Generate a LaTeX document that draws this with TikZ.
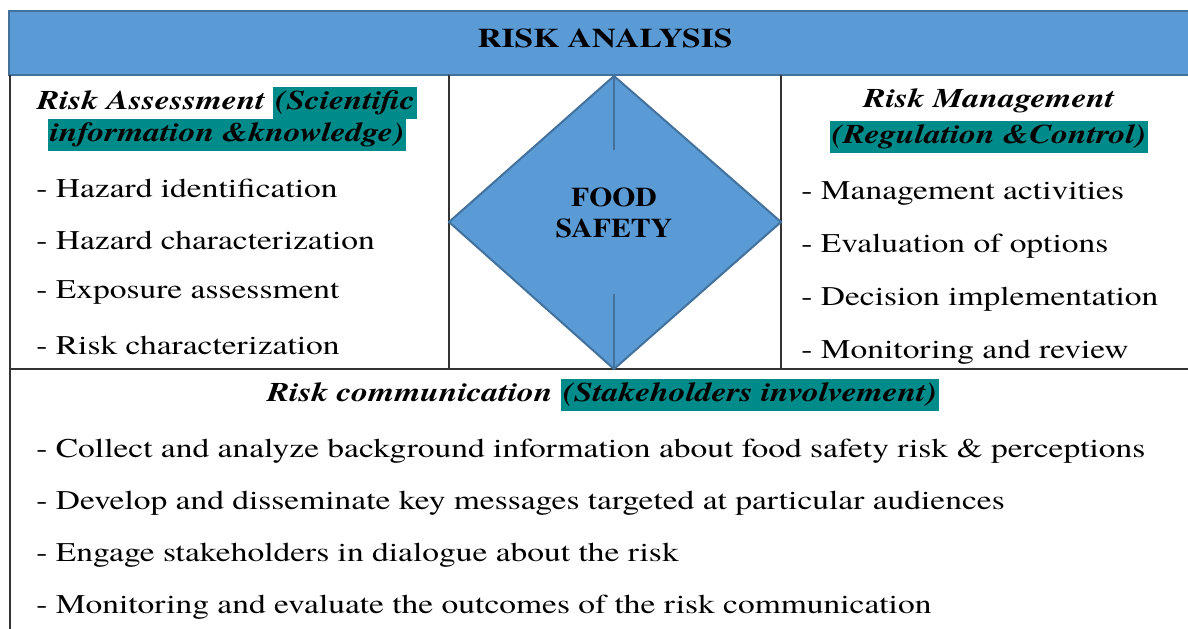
\documentclass[tikz,border=0pt]{standalone}
\usepackage{fontspec}
\setmainfont{texgyretermes}[Extension=.otf,UprightFont=*-regular,BoldFont=*-bold,
  ItalicFont=*-italic,BoldItalicFont=*-bolditalic,FakeStretch=1.24]
\newfontfamily\diafont{texgyretermes}[Extension=.otf,UprightFont=*-regular,BoldFont=*-bold,FakeStretch=1.1]
\definecolor{bandblue}{RGB}{91,155,213}
\definecolor{edgeblue}{RGB}{65,113,156}
\definecolor{hlteal}{RGB}{0,139,139}
\newcommand{\hlt}[1]{{\setlength{\fboxsep}{0pt}\colorbox{hlteal}{\strut\kern1pt #1\kern1pt}}}
\begin{document}
\begin{tikzpicture}[x=0.5pt,y=-0.5pt,
  item/.style={anchor=west,inner sep=0pt,font=\fontsize{13.5}{16}\selectfont},
  head/.style={inner sep=0pt,align=center,font=\fontsize{13.5}{16}\selectfont\bfseries\itshape},
  rule/.style={draw=black!80,line width=0.8pt}]
\useasboundingbox (0,0) rectangle (1188,628);
% header band
\draw[fill=bandblue,draw=edgeblue,line width=1pt] (9,11) rectangle (1192,75);
\node[inner sep=0pt,font=\fontsize{13.5}{16}\selectfont\bfseries] (title) at (605,38) {RISK ANALYSIS};
% table lines
\draw[rule] (10,75) -- (10,632);
\draw[rule] (449,75) -- (449,369);
\draw[rule] (781,75) -- (781,369);
\draw[rule] (10,369) -- (1192,369);
% diamond
\coordinate (dT) at (614,76);
\coordinate (dL) at (449,222);
\coordinate (dR) at (781,222);
\coordinate (dB) at (614,369);
\draw[fill=bandblue,draw=edgeblue,line width=1pt] (dT) -- (dR) -- (dB) -- (dL) -- cycle;
\draw[edgeblue,line width=1.2pt] (dT) -- (614,150);
\draw[edgeblue,line width=1.2pt] (dB) -- (614,294);
\node[inner sep=0pt,align=center,font=\diafont\fontsize{13.5}{15.5}\selectfont\bfseries] (food) at (614,213) {FOOD\\SAFETY};
% risk assessment
\node[head] (assess) at (227,119) {Risk Assessment \hlt{(Scientific}\\\hlt{information \&knowledge)}};
\node[item] (a1) at (36,188) {- Hazard identification};
\node[item] (a2) at (36,240) {- Hazard characterization};
\node[item] (a3) at (36,292) {- Exposure assessment};
\node[item] (a4) at (36,345) {- Risk characterization};
% risk management
\node[head] (manage) at (989,121) {Risk Management\\[2pt]\hlt{(Regulation \&Control)}};
\node[item] (m1) at (801,193) {- Management activities};
\node[item] (m2) at (801,246) {- Evaluation of options};
\node[item] (m3) at (801,299) {- Decision implementation};
\node[item] (m4) at (801,352) {- Monitoring and review};
% risk communication
\node[head] (comm) at (603,395) {Risk communication \hlt{(Stakeholders involvement)}};
\node[item] (c1) at (36,451) {- Collect and analyze background information about food safety risk \& perceptions};
\node[item] (c2) at (36,503) {- Develop and disseminate key messages targeted at particular audiences};
\node[item] (c3) at (36,555) {- Engage stakeholders in dialogue about the risk};
\node[item] (c4) at (36,607) {- Monitoring and evaluate the outcomes of the risk communication};
\end{tikzpicture}
\end{document}
